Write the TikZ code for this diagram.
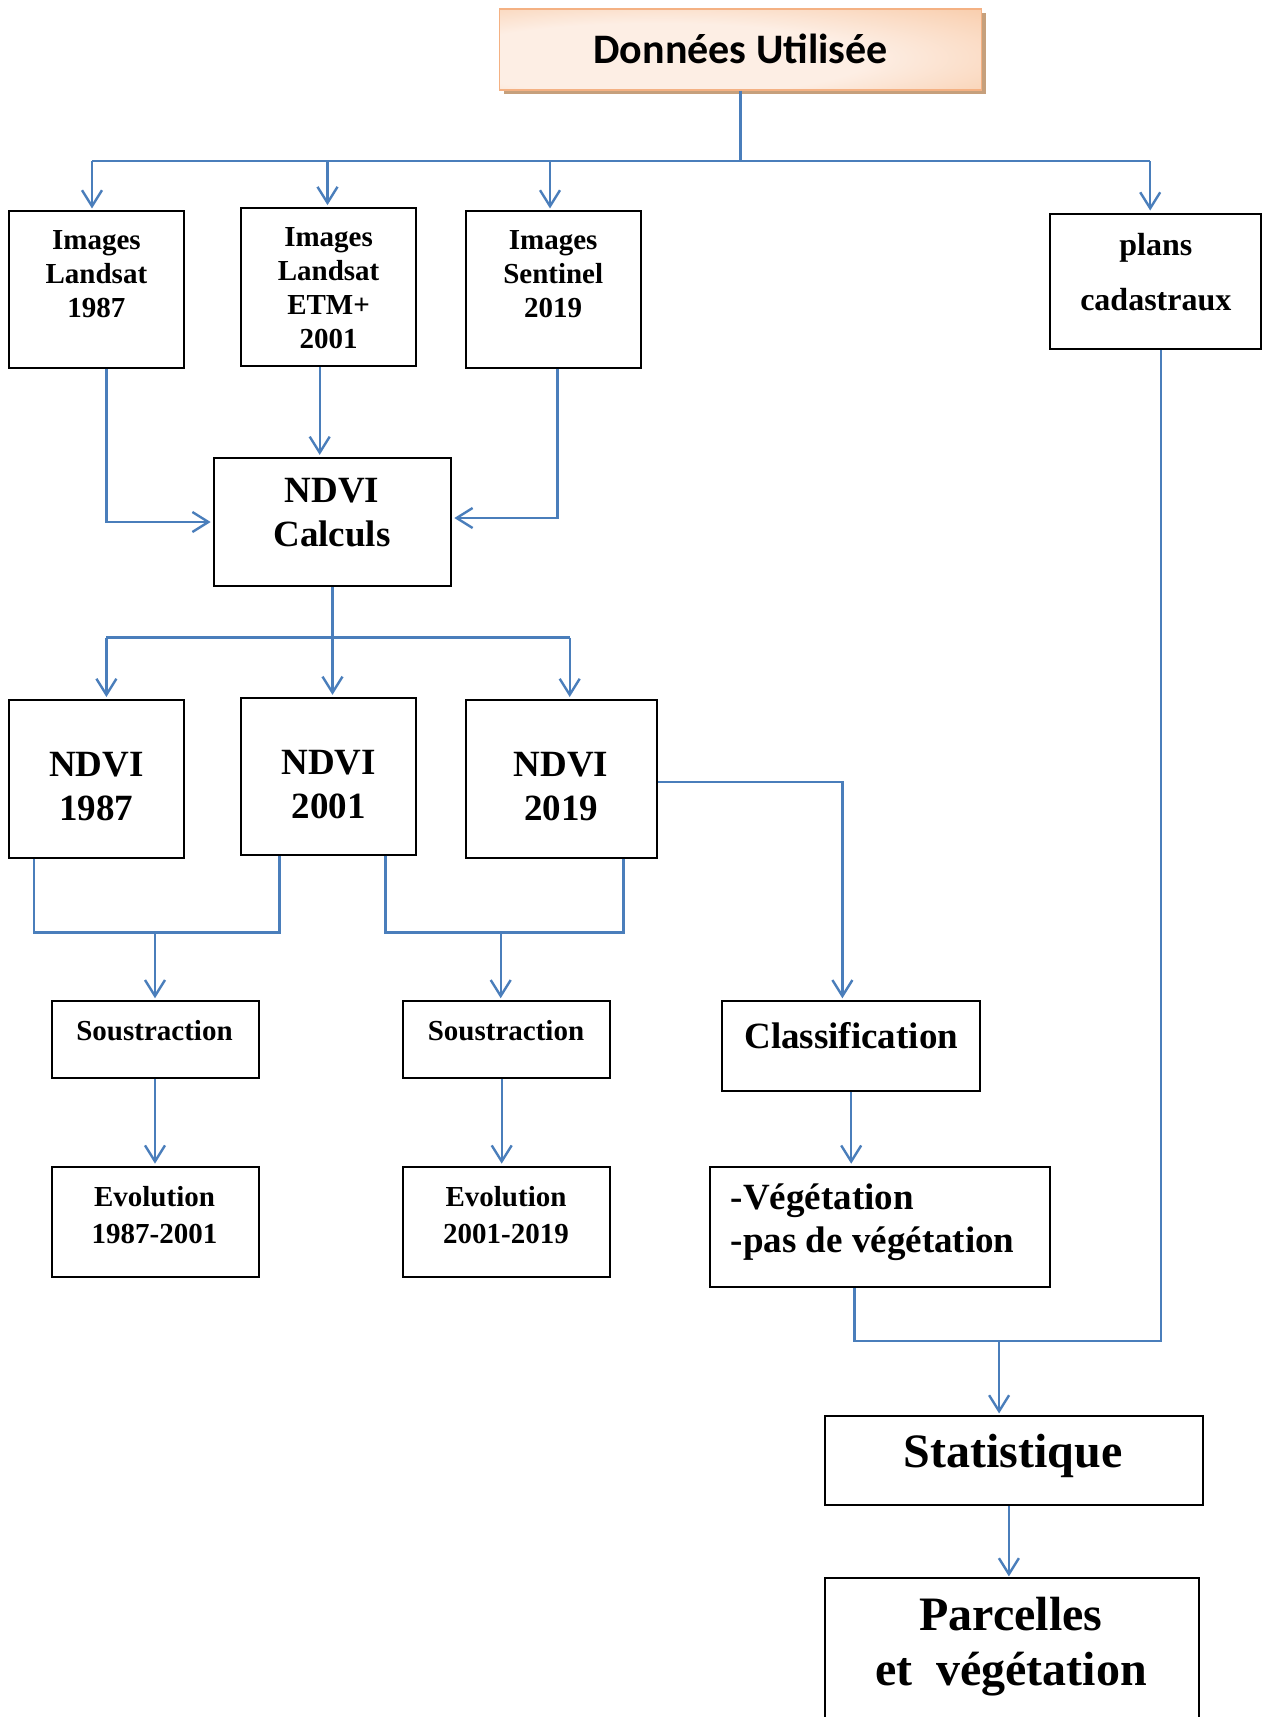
\documentclass[tikz,border=0pt]{standalone}
\usepackage{fontspec}
\setmainfont{Liberation Serif}
\newfontfamily\hdrfont{Carlito}
\usetikzlibrary{arrows.meta,shadows}
\definecolor{conn}{HTML}{4A7EBB}
\definecolor{hdrEdge}{HTML}{F6B98A}
\definecolor{hdrMid}{HTML}{FDEEE4}
\definecolor{hdrBorder}{HTML}{F4B183}
\definecolor{hdrShadow}{HTML}{C6A07C}
\pgfdeclareradialshading{hdrshade}{\pgfpoint{-12bp}{-8bp}}{color(0bp)=(hdrMid); color(22bp)=(hdrMid); color(55bp)=(hdrEdge); color(80bp)=(hdrEdge)}
\tikzset{
  box/.style={draw=black, line width=2pt, inner sep=0pt},
  lbl/.style={align=center, inner sep=0pt, font=\bfseries\fontsize{29}{34}\selectfont},
  ln/.style={draw=conn, line width=2.4pt},
  arr/.style={ln, shorten >=2pt, -{Straight Barb[length=16pt,width=20pt]}},
}
\begin{document}
\begin{tikzpicture}[x=1pt,y=-1pt]
\path[fill=white, use as bounding box] (0,0) rectangle (1262,1717);

% header
\node[draw=hdrBorder, line width=1.5pt, shading=hdrshade,
      drop shadow={shadow xshift=4pt, shadow yshift=-4pt, fill=hdrShadow, opacity=1},
      minimum width=482pt, minimum height=81pt, inner sep=0pt,
      font=\hdrfont\bfseries\fontsize{42}{50}\selectfont] (hdr) at (740.6,49.3) {Données Utilisée};

% boxes
\node[box, minimum width=175.3pt, minimum height=156.7pt] (l87) at (96.4,289.8) {};
\node[box, minimum width=175.3pt, minimum height=157.8pt] (etm) at (328.7,287) {};
\node[box, minimum width=175.3pt, minimum height=156.7pt] (sen) at (553.2,289.8) {};
\node[box, minimum width=211.4pt, minimum height=135.9pt] (plans) at (1155.2,281.5) {};
\node[box, minimum width=237.7pt, minimum height=128.2pt] (calc) at (332.5,522) {};
\node[box, minimum width=175.3pt, minimum height=157.8pt] (n87) at (96.4,778.9) {};
\node[box, minimum width=175.3pt, minimum height=156.7pt] (n01) at (328.7,776.2) {};
\node[box, minimum width=191.7pt, minimum height=157.8pt] (n19) at (561.4,778.9) {};
\node[box, minimum width=207pt, minimum height=76.7pt] (s1) at (155,1039.6) {};
\node[box, minimum width=207pt, minimum height=76.7pt] (s2) at (506.7,1039.6) {};
\node[box, minimum width=258.5pt, minimum height=89.8pt] (cls) at (851.2,1046.2) {};
\node[box, minimum width=207pt, minimum height=110.7pt] (e1) at (155,1222) {};
\node[box, minimum width=207pt, minimum height=110.7pt] (e2) at (506.7,1222) {};
\node[box, minimum width=339.6pt, minimum height=120.6pt] (veg) at (879.7,1227) {};
\node[box, minimum width=378pt, minimum height=88.7pt] (stat) at (1013.9,1460.8) {};
\node[inner sep=0pt, minimum width=373.6pt, minimum height=180pt] (parc) at (1011.7,1668.6) {};
\draw[black, line width=2pt] (parc.south west) |- (parc.north east) -- (parc.south east);

% texts
\node[lbl] (l87t) at (96.4,273.9) {Images\\Landsat\\1987};
\node[lbl] (etmt) at (328.6,288.1) {Images\\Landsat\\ETM+\\2001};
\node[lbl] (sent) at (553.2,273.9) {Images\\Sentinel\\2019};
\node[lbl, font=\bfseries\fontsize{32}{55}\selectfont] (planst) at (1155.8,271.7) {plans\\cadastraux};
\node[lbl, font=\bfseries\fontsize{37}{44}\selectfont] (calct) at (332,512.7) {NDVI\\Calculs};
\node[lbl, font=\bfseries\fontsize{37}{44}\selectfont] (n87t) at (96.4,786.6) {NDVI\\1987};
\node[lbl, font=\bfseries\fontsize{37}{44}\selectfont] (n01t) at (328.6,784.4) {NDVI\\2001};
\node[lbl, font=\bfseries\fontsize{37}{44}\selectfont] (n19t) at (561,786.6) {NDVI\\2019};
\node[lbl] (s1t) at (154.5,1030.9) {Soustraction};
\node[lbl] (s2t) at (506,1030.9) {Soustraction};
\node[lbl, font=\bfseries\fontsize{37}{44}\selectfont] (clst) at (851.2,1035.2) {Classification};
\node[lbl, font=\bfseries\fontsize{29}{37}\selectfont] (e1t) at (154.5,1214.9) {Evolution\\1987-2001};
\node[lbl, font=\bfseries\fontsize{29}{37}\selectfont] (e2t) at (506,1214.9) {Evolution\\2001-2019};
\node[lbl, align=left, anchor=west, font=\bfseries\fontsize{37}{43}\selectfont] (vegt) at (730.7,1222) {-Végétation\\-pas de végétation};
\node[lbl, font=\bfseries\fontsize{48}{55}\selectfont] (statt) at (1013.3,1456) {Statistique};
\node[lbl, font=\bfseries\fontsize{48}{55}\selectfont] (parct) at (1011,1646.5) {Parcelles\\et~~végétation};

% connectors
\coordinate (bus1) at (0,161);
\draw[ln] (hdr.south) -- (hdr.south |- bus1);
\draw[ln] ([xshift=-4.4pt]l87.north |- bus1) -- ([xshift=-5pt]plans.north |- bus1);
\draw[arr] ([xshift=-4.4pt]l87.north |- bus1) -- ([xshift=-4.4pt]l87.north);
\draw[arr] ([xshift=-1.2pt]etm.north |- bus1) -- ([xshift=-1.2pt]etm.north);
\draw[arr] ([xshift=-3.2pt]sen.north |- bus1) -- ([xshift=-3.2pt]sen.north);
\draw[arr] ([xshift=-5pt]plans.north |- bus1) -- ([xshift=-5pt]plans.north);

\draw[arr] ([xshift=10pt]l87.south) |- (calc.west);
\draw[arr] ([xshift=-9pt]etm.south) -- ([xshift=-9pt]etm.south |- calc.north);
\draw[arr] ([xshift=4.4pt]sen.south) |- ([yshift=4pt]calc.east);

\coordinate (bus2) at (0,637.6);
\draw[arr] (calc.south) -- (calc.south |- n01.north);
\draw[ln] ([xshift=10pt]n87.north |- bus2) -- ([xshift=8.3pt]n19.north |- bus2);
\draw[arr] ([xshift=10pt]n87.north |- bus2) -- ([xshift=10pt]n87.north);
\draw[arr] ([xshift=8.3pt]n19.north |- bus2) -- ([xshift=8.3pt]n19.north);

\coordinate (bus3) at (0,932.3);
\draw[ln] ([xshift=-62.4pt]n87.south) |- ([xshift=-49.3pt]n01.south |- bus3) -- ([xshift=-49.3pt]n01.south);
\draw[arr] (s1.north |- bus3) -- (s1.north);
\draw[ln] ([xshift=56.9pt]n01.south) |- ([xshift=62pt]n19.south |- bus3) -- ([xshift=62pt]n19.south);
\draw[arr] ([xshift=-6pt]s2.north |- bus3) -- ([xshift=-6pt]s2.north);

\draw[arr] ([yshift=-3.3pt]n19.east) -| ([xshift=-8.8pt]cls.north);

\draw[arr] (s1.south) -- (e1.north);
\draw[arr] ([xshift=-5pt]s2.south) -- ([xshift=-5pt]e2.north);
\draw[arr] (cls.south) -- (cls.south |- veg.north);

\coordinate (bus4) at (0,1340.9);
\draw[ln] ([xshift=-25.2pt]veg.south) |- ([xshift=6pt]plans.south |- bus4) -- ([xshift=6pt]plans.south);
\draw[arr] ([xshift=-14.8pt]stat.north |- bus4) -- ([xshift=-14.8pt]stat.north);
\draw[arr] ([xshift=-5pt]stat.south) -- ([xshift=-5pt]stat.south |- parc.north);
\end{tikzpicture}
\end{document}
